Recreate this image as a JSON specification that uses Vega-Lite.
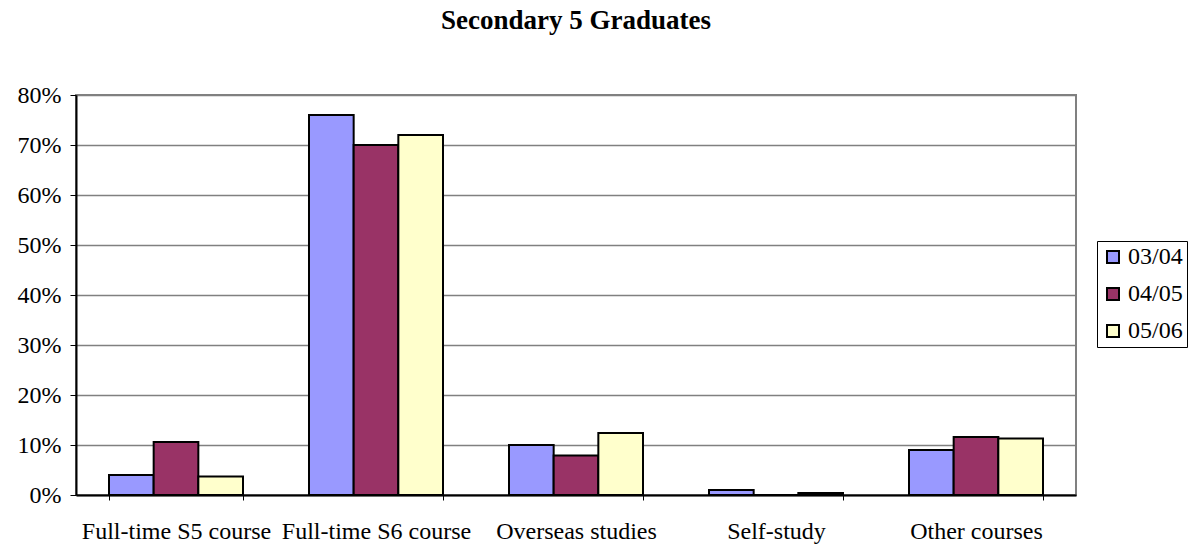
{
  "$schema": "https://vega.github.io/schema/vega-lite/v6.json",
  "autosize": "none",
  "padding": {"left": 76, "top": 95, "right": 113, "bottom": 52},
  "width": 1000,
  "height": 400,
  "background": "white",
  "title": {
    "text": "Secondary 5 Graduates",
    "font": "Liberation Serif",
    "fontSize": 27,
    "fontWeight": "bold",
    "color": "black",
    "anchor": "middle",
    "offset": 48
  },
  "data": {
    "values": [
      {"category": "Full-time S5 course", "year": "03/04", "value": 0.04},
      {"category": "Full-time S5 course", "year": "04/05", "value": 0.106},
      {"category": "Full-time S5 course", "year": "05/06", "value": 0.037},
      {"category": "Full-time S6 course", "year": "03/04", "value": 0.76},
      {"category": "Full-time S6 course", "year": "04/05", "value": 0.70},
      {"category": "Full-time S6 course", "year": "05/06", "value": 0.72},
      {"category": "Overseas studies", "year": "03/04", "value": 0.10},
      {"category": "Overseas studies", "year": "04/05", "value": 0.079},
      {"category": "Overseas studies", "year": "05/06", "value": 0.124},
      {"category": "Self-study", "year": "03/04", "value": 0.01},
      {"category": "Self-study", "year": "04/05", "value": 0.0},
      {"category": "Self-study", "year": "05/06", "value": 0.004},
      {"category": "Other courses", "year": "03/04", "value": 0.09},
      {"category": "Other courses", "year": "04/05", "value": 0.116},
      {"category": "Other courses", "year": "05/06", "value": 0.113}
    ]
  },
  "mark": {"type": "bar", "stroke": "black", "strokeWidth": 2},
  "encoding": {
    "x": {
      "field": "category",
      "type": "nominal",
      "sort": null,
      "scale": {"paddingInner": 0.33, "paddingOuter": 0.165},
      "axis": {
        "title": null,
        "labelAngle": 0,
        "labelFont": "Liberation Serif",
        "labelFontSize": 24,
        "labelColor": "black",
        "labelLimit": 0,
        "labelOverlap": false,
        "labelPadding": 19,
        "domainColor": "black",
        "domainWidth": 2,
        "tickColor": "black",
        "tickBand": "extent",
        "tickSize": 5,
        "ticks": true,
        "grid": false
      }
    },
    "xOffset": {"field": "year", "type": "nominal", "scale": {"paddingInner": 0, "paddingOuter": 0}},
    "y": {
      "field": "value",
      "type": "quantitative",
      "scale": {"domain": [0, 0.8], "nice": false},
      "axis": {
        "title": null,
        "format": ".0%",
        "values": [0, 0.1, 0.2, 0.3, 0.4, 0.5, 0.6, 0.7, 0.8],
        "labelFont": "Liberation Serif",
        "labelFontSize": 24,
        "labelColor": "black",
        "labelPadding": 9,
        "domainColor": "black",
        "domainWidth": 2,
        "tickColor": "black",
        "tickSize": 6,
        "gridColor": "#808080",
        "gridWidth": 1.5,
        "gridOpacity": 1
      }
    },
    "fill": {
      "field": "year",
      "type": "nominal",
      "scale": {"domain": ["03/04", "04/05", "05/06"], "range": ["#9999FF", "#993366", "#FFFFCC"]},
      "legend": {
        "title": null,
        "orient": "none",
        "legendX": 1021,
        "legendY": 146,
        "symbolType": "square",
        "symbolSize": 144,
        "symbolStrokeColor": "black",
        "symbolStrokeWidth": 2,
        "symbolOpacity": 1,
        "labelFont": "Liberation Serif",
        "labelFontSize": 24,
        "labelColor": "black",
        "labelOffset": 3,
        "rowPadding": 13,
        "strokeColor": "black",
        "padding": 4,
        "fillColor": "white"
      }
    }
  },
  "config": {
    "font": "Liberation Serif",
    "legend": {"labelFont": "Liberation Serif", "labelFontSize": 24},
    "view": {"stroke": "#808080", "strokeWidth": 2}
  }
}
